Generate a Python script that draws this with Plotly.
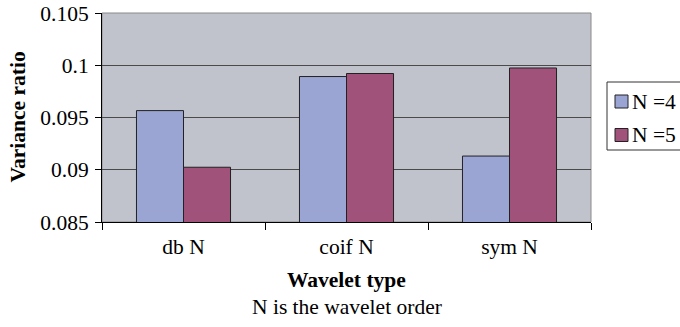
import plotly.graph_objects as go

categories = ["db N", "coif N", "sym N"]
n4_values = [0.09566, 0.09892, 0.09131]
n5_values = [0.09024, 0.09921, 0.09974]
series_names = ["N =4", "N =5"]
series_colors = ["#9AA5D4", "#A0527A"]
y_tickvals = [0.085, 0.09, 0.095, 0.1, 0.105]
y_ticktext = ["0.085", "0.09", "0.095", "0.1", "0.105"]

FONT = "Liberation Serif, DejaVu Serif, Times New Roman, serif"
FS = 21.5

fig = go.Figure()
for name, vals, col in zip(series_names, [n4_values, n5_values], series_colors):
    fig.add_trace(go.Bar(x=categories, y=vals, name=name,
                         marker=dict(color=col, line=dict(color="#222222", width=1))))

L, R, T, B = 102, 89, 13, 105
PW, PH = 680 - L - R, 327 - T - B


def px(x):
    return (x - L) / PW


def py(y):
    return (327 - B - y) / PH


shapes = [dict(type="rect", xref="paper", yref="paper", x0=0, x1=1, y0=0, y1=1,
               line=dict(color="#8A8A8A", width=1), layer="below"),
          dict(type="rect", xref="paper", yref="paper", x0=px(607), x1=px(684),
               y0=py(150), y1=py(82), line=dict(color="#333333", width=1),
               fillcolor="white", layer="above")]
annotations = [
    dict(text="<b>Wavelet type</b>", xref="paper", yref="paper",
         x=0.5, y=py(280), xanchor="center", yanchor="middle",
         showarrow=False, font=dict(family=FONT, size=FS)),
    dict(text="N is the wavelet order", xref="paper", yref="paper",
         x=0.5, y=py(307), xanchor="center", yanchor="middle",
         showarrow=False, font=dict(family=FONT, size=FS)),
    dict(text="<b>Variance ratio</b>", xref="paper", yref="paper",
         x=px(17), y=0.5, xanchor="center", yanchor="middle",
         textangle=-90, showarrow=False, font=dict(family=FONT, size=FS)),
]
row_centers = [101.5, 135]
for name, col, yc in zip(series_names, series_colors, row_centers):
    shapes.append(dict(type="rect", xref="paper", yref="paper",
                       x0=px(615), x1=px(628), y0=py(yc + 6.5), y1=py(yc - 6.5),
                       line=dict(color="#222222", width=1), fillcolor=col, layer="above"))
    annotations.append(dict(text=name, xref="paper", yref="paper",
                            x=px(630), y=py(yc), xanchor="left", yanchor="middle",
                            showarrow=False, font=dict(family=FONT, size=FS)))

fig.update_layout(
    width=680, height=327,
    margin=dict(l=L, r=R, t=T, b=B, pad=0, autoexpand=False),
    paper_bgcolor="white",
    plot_bgcolor="#C0C3CB",
    barmode="group",
    bargap=0.423,
    bargroupgap=0,
    font=dict(family=FONT, size=FS, color="black"),
    showlegend=False,
    xaxis=dict(type="category", showline=True, linecolor="black", linewidth=1,
               ticks="outside", ticklen=7, tickcolor="black", tickson="boundaries",
               showgrid=False, automargin=False, ticklabelstandoff=5,
               tickfont=dict(family=FONT, size=FS)),
    yaxis=dict(range=[0.085, 0.105], tickvals=y_tickvals, ticktext=y_ticktext,
               showline=True, linecolor="black", linewidth=1,
               ticks="outside", ticklen=6, tickcolor="black",
               showgrid=True, gridcolor="#4A4A4A", gridwidth=1, automargin=False,
               zeroline=False, ticklabelstandoff=2,
               tickfont=dict(family=FONT, size=FS)),
    shapes=shapes,
    annotations=annotations,
)

fig.write_html("out.html")
